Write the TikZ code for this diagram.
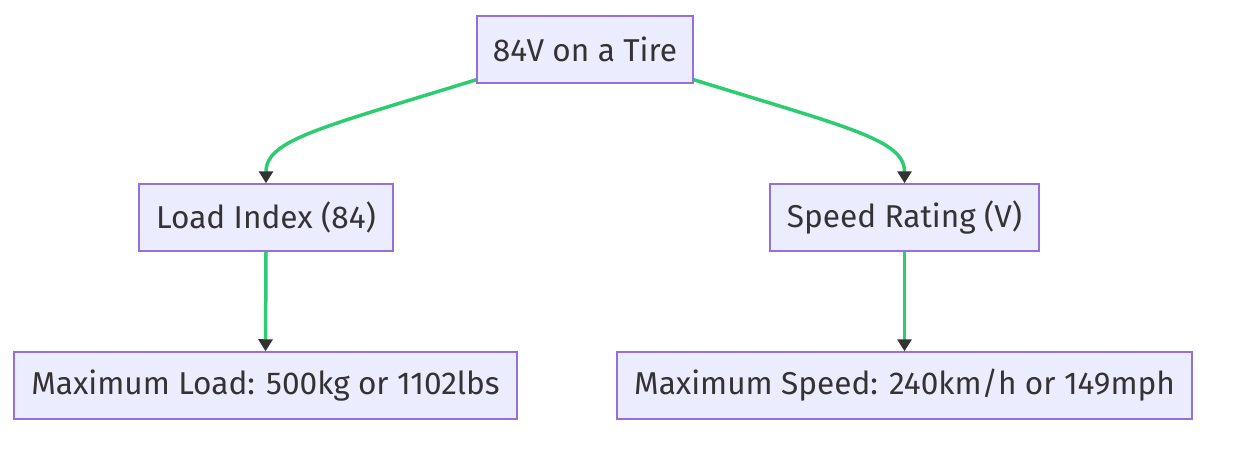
\documentclass[tikz,border=0pt]{standalone}
\usepackage{fontspec}
\setmainfont{Fira Sans}
\usetikzlibrary{arrows.meta}
\definecolor{nodefill}{HTML}{ECECFF}
\definecolor{nodeline}{HTML}{9370DB}
\definecolor{edgec}{HTML}{2ECC71}
\definecolor{tipc}{HTML}{333333}
\definecolor{textc}{HTML}{333333}
\tikzset{
  box/.style={draw=nodeline, fill=nodefill, line width=1.5pt, inner sep=0pt,
    minimum height=67pt, text=textc, font=\fontsize{31.6}{36}\selectfont},
  link/.style={draw=edgec, line width=3.5pt,
    -{Triangle[length=12pt,width=14pt,color=tipc]}}
}
\begin{document}
\begin{tikzpicture}[x=1pt,y=-1pt]
\fill[white] (0,0) rectangle (1233,475);
\useasboundingbox (0,0) rectangle (1233,475);
\node[box, minimum width=216pt] (top) at (585,49.5) {84V on a Tire};
\node[box, minimum width=254pt] (load) at (266,217.5) {Load Index (84)};
\node[box, minimum width=269pt] (speed) at (904.5,217.5) {Speed Rating (V)};
\node[box, minimum width=503pt] (maxload) at (265.5,385.5) {Maximum Load: 500kg or 1102lbs};
\node[box, minimum width=575pt] (maxspeed) at (904.5,385.5) {Maximum Speed: 240km/h or 149mph};
\draw[link] ([yshift=4pt]top.south west) .. controls (320,128) and (266,140) .. (load.north);
\draw[link] ([yshift=4pt]top.south east) .. controls (850,128) and (904.5,140) .. (speed.north);
\draw[link] (load.south) -- (maxload.north);
\draw[link] (speed.south) -- (maxspeed.north);
\end{tikzpicture}
\end{document}
